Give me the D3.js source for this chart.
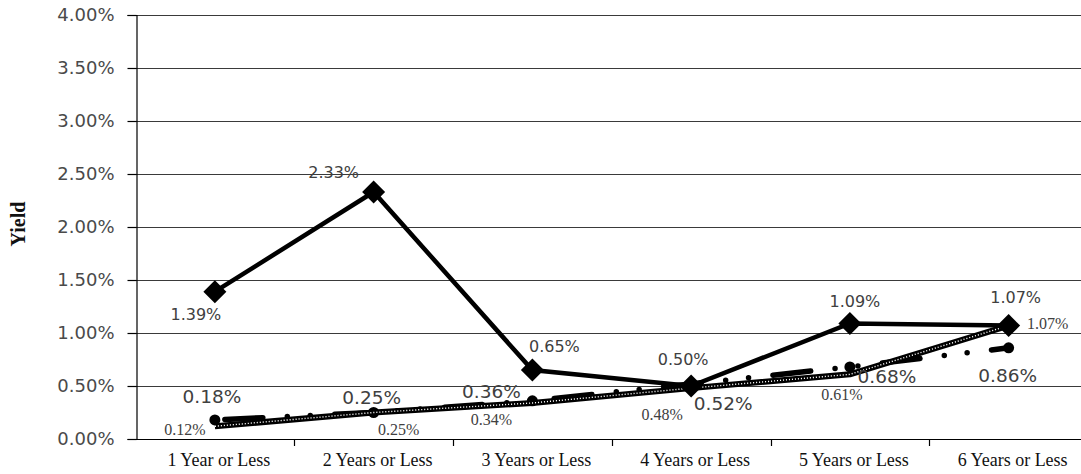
<!DOCTYPE html>
<html>
<head>
<meta charset="utf-8">
<script src="https://cdn.jsdelivr.net/npm/d3@7/dist/d3.min.js"></script>
<style>
  html, body { margin: 0; padding: 0; background: #fff; }
  svg { display: block; }
</style>
</head>
<body>
<svg id="chart" width="1081" height="474"></svg>
<script>
// Categories on the x axis
const categories = ["1 Year or Less", "2 Years or Less", "3 Years or Less",
                    "4 Years or Less", "5 Years or Less", "6 Years or Less"];

// Yield series (percent)
const seriesSolid  = [1.39, 2.33, 0.65, 0.50, 1.09, 1.07];
const seriesDashed = [0.18, 0.25, 0.36, 0.52, 0.68, 0.86];
const seriesHatch  = [0.12, 0.25, 0.34, 0.48, 0.61, 1.07];

// Y axis ticks
const yTicks = [0, 0.5, 1.0, 1.5, 2.0, 2.5, 3.0, 3.5, 4.0];

// Label placement (offset from the point: dx, dy to baseline)
const solidLabelOffsets  = [[-19, 28], [-40, -14], [22, -18], [-8, -21], [5, -16], [7, -23]];
const dashedLabelOffsets = [[-3, -17], [-2, -9], [-41, -3], [32, 26], [37, 16], [-1, 34]];
const hatchLabelOffsets  = [[-30, 9], [25, 22], [-41, 22], [-29, 32], [-8, 26], [39, 3]];

const svg = d3.select("#chart");
const plotLeft = 136, plotTop = 15, plotBottom = 439, plotRight = 1088;

const x = d3.scaleBand().domain(categories).range([135.5, plotRight]).paddingInner(0).paddingOuter(0);
const cx = c => x(c) + x.bandwidth() / 2;
const y = d3.scaleLinear().domain([0, 4]).range([plotBottom, plotTop]);

const fmt = v => v.toFixed(2) + "%";
const labelColor = "#404040";

// Horizontal gridlines
svg.append("g")
  .selectAll("line")
  .data(yTicks.filter(t => t > 0))
  .join("line")
  .attr("x1", plotLeft).attr("x2", 1081)
  .attr("y1", d => Math.round(y(d)) + 0.5).attr("y2", d => Math.round(y(d)) + 0.5)
  .attr("stroke", "#3a3a3a").attr("stroke-width", 1.2);

// Y axis
const yAxis = d3.axisLeft(y).tickValues(yTicks).tickFormat(fmt).tickSize(9).tickPadding(13);
const gy = svg.append("g").attr("transform", `translate(${plotLeft + 0.5},0)`).call(yAxis);
gy.select(".domain").attr("stroke", "#000").attr("stroke-width", 1.2);
gy.selectAll(".tick line").attr("stroke", "#000").attr("stroke-width", 1.2);
gy.selectAll(".tick text")
  .attr("font-family", "DejaVu Sans, sans-serif")
  .attr("font-size", 18).attr("fill", "#4a4a4a");

// X axis
const xAxis = d3.axisBottom(x).tickSize(0).tickPadding(14);
const gx = svg.append("g").attr("transform", `translate(0,${plotBottom + 0.5})`).call(xAxis);
gx.select(".domain").attr("d", `M${plotLeft},0H1081`).attr("stroke", "#000").attr("stroke-width", 1.2);
gx.selectAll(".tick text")
  .attr("font-family", "Liberation Serif, Times New Roman, serif")
  .attr("font-size", 18).attr("fill", "#111").attr("dx", 4);
// Tick marks at category boundaries
svg.append("g")
  .selectAll("line")
  .data(categories.slice(1))
  .join("line")
  .attr("x1", d => Math.round(x(d)) + 0.5).attr("x2", d => Math.round(x(d)) + 0.5)
  .attr("y1", plotBottom).attr("y2", plotBottom + 7)
  .attr("stroke", "#000").attr("stroke-width", 1.2);

// Y axis title
svg.append("text")
  .attr("transform", `translate(25,224) rotate(-90)`)
  .attr("text-anchor", "middle")
  .attr("font-family", "Liberation Serif, Times New Roman, serif")
  .attr("font-weight", "bold").attr("font-size", 20).attr("fill", "#111")
  .text("Yield");

const line = d3.line().x((d, i) => cx(categories[i])).y(d => y(d));

// Long-dash-dot-dot series with round markers
svg.append("path")
  .attr("d", line(seriesDashed))
  .attr("fill", "none").attr("stroke", "#000").attr("stroke-width", 5.5)
  .attr("stroke-linecap", "round").attr("stroke-linejoin", "round")
  .attr("stroke-dasharray", "38,24.5,0,23,0,24.5")
  .attr("stroke-dashoffset", -10);
svg.append("g")
  .selectAll("circle")
  .data(seriesDashed)
  .join("circle")
  .attr("cx", (d, i) => cx(categories[i])).attr("cy", d => y(d))
  .attr("r", 5.5).attr("fill", "#000");

// Hatched series: thick black stroke with a white dotted core
svg.append("path")
  .attr("d", line(seriesHatch))
  .attr("fill", "none").attr("stroke", "#000").attr("stroke-width", 6)
  .attr("stroke-linejoin", "round");
svg.append("path")
  .attr("d", line(seriesHatch))
  .attr("fill", "none").attr("stroke", "#fff").attr("stroke-width", 1.4)
  .attr("stroke-dasharray", "1.1,1.9");

// Solid series with diamond markers
svg.append("path")
  .attr("d", line(seriesSolid))
  .attr("fill", "none").attr("stroke", "#000").attr("stroke-width", 4.5)
  .attr("stroke-linejoin", "miter");
const dh = 11.5;
svg.append("g")
  .selectAll("path")
  .data(seriesSolid)
  .join("path")
  .attr("transform", (d, i) => `translate(${cx(categories[i])},${y(d)})`)
  .attr("d", `M0,${-dh}L${dh},0L0,${dh}L${-dh},0Z`)
  .attr("fill", "#000");

// Value labels
function addLabels(values, offsets, family, size) {
  svg.append("g")
    .selectAll("text")
    .data(values)
    .join("text")
    .attr("x", (d, i) => cx(categories[i]) + offsets[i][0])
    .attr("y", (d, i) => y(d) + offsets[i][1])
    .attr("text-anchor", "middle")
    .attr("font-family", family).attr("font-size", size)
    .attr("fill", labelColor)
    .text(fmt);
}
addLabels(seriesSolid, solidLabelOffsets, "DejaVu Sans, sans-serif", 16);
addLabels(seriesDashed, dashedLabelOffsets, "DejaVu Sans, sans-serif", 18.5);
addLabels(seriesHatch, hatchLabelOffsets, "Liberation Serif, Times New Roman, serif", 16);
</script>
</body>
</html>
